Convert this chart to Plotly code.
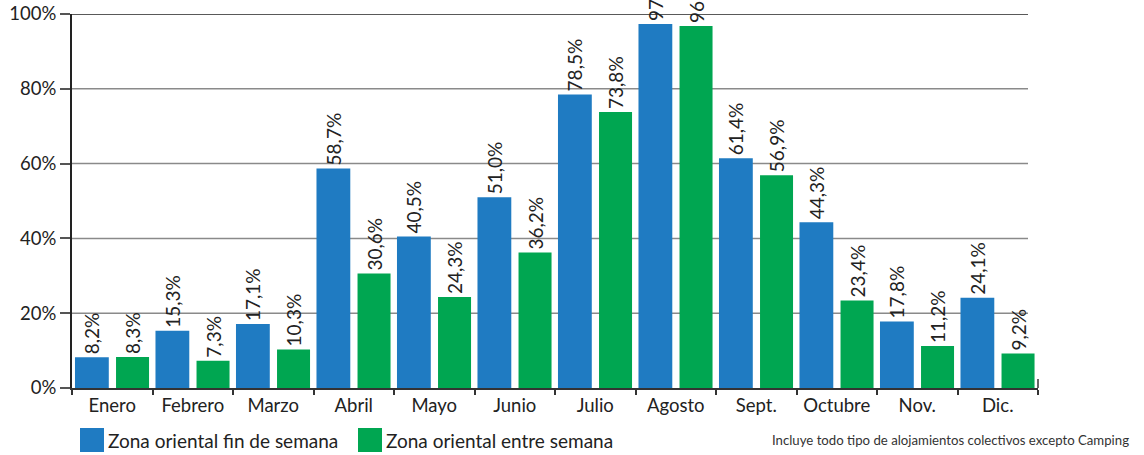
import plotly.graph_objects as go

# Monthly occupancy (%) by zone
months = ["Enero", "Febrero", "Marzo", "Abril", "Mayo", "Junio", "Julio",
          "Agosto", "Sept.", "Octubre", "Nov.", "Dic."]
fin_semana = [8.2, 15.3, 17.1, 58.7, 40.5, 51.0, 78.5, 97.3, 61.4, 44.3, 17.8, 24.1]
entre_semana = [8.3, 7.3, 10.3, 30.6, 24.3, 36.2, 73.8, 96.8, 56.9, 23.4, 11.2, 9.2]
y_ticks = [0, 20, 40, 60, 80, 100]
y_tick_labels = ["0%", "20%", "40%", "60%", "80%", "100%"]

BLUE = "#1f7bc2"
GREEN = "#00a651"
FONT = "Lato"
W, H = 1144, 455
ML, MR, MT, MB = 72, 106, 14, 67


def fmt(v):
    return f"{v:.1f}".replace(".", ",") + "%"


def px(x):
    return (x - ML) / (W - ML - MR)


def py(y):
    return (H - MB - y) / (H - MT - MB)


fig = go.Figure()
for vals, name, col, width, offset in [
    (fin_semana, "Zona oriental fin de semana", BLUE, 0.42, -0.463),
    (entre_semana, "Zona oriental entre semana", GREEN, 0.41, 0.047),
]:
    fig.add_trace(go.Bar(
        x=months, y=vals, name=name,
        marker=dict(color=col, line=dict(width=0)),
        width=width, offset=offset,
        text=[fmt(v) for v in vals], textposition="outside", textangle=-90,
        constraintext="none",
        textfont=dict(family=FONT, size=19, color="#222"), cliponaxis=False,
    ))

shapes = []
# horizontal grid lines (top one dark)
for t in y_ticks[1:]:
    shapes.append(dict(type="line", xref="paper", yref="y", x0=0, x1=px(1028),
                       y0=t, y1=t, layer="below",
                       line=dict(color="#222" if t == 100 else "#8a8a8a", width=1.5)))
# small closing tick at the right end of the x axis
shapes.append(dict(type="line", xref="paper", yref="paper", x0=1, x1=1,
                   y0=0, y1=py(379), line=dict(color="#333", width=1.5)))

# legend swatches
legend_items = [(80, BLUE, "Zona oriental fin de semana"),
                (358, GREEN, "Zona oriental entre semana")]
annotations = []
for x0, col, label in legend_items:
    shapes.append(dict(type="rect", xref="paper", yref="paper",
                       x0=px(x0), x1=px(x0 + 24), y0=py(452), y1=py(428),
                       fillcolor=col, line=dict(width=0)))
    annotations.append(dict(xref="paper", yref="paper", x=px(x0 + 26), y=py(440),
                            xanchor="left", yanchor="middle", showarrow=False,
                            text=label, font=dict(family=FONT, size=19, color="#222")))

annotations.append(dict(xref="paper", yref="paper", x=px(1131), y=py(440),
                        xanchor="right", yanchor="middle", showarrow=False,
                        text="Incluye todo tipo de alojamientos colectivos excepto Camping",
                        font=dict(family=FONT, size=13.2, color="#333")))

fig.update_layout(
    width=W, height=H,
    margin=dict(l=ML, r=MR, t=MT, b=MB, autoexpand=False),
    paper_bgcolor="white", plot_bgcolor="white",
    showlegend=False,
    barmode="group",
    shapes=shapes, annotations=annotations,
    xaxis=dict(
        type="category", showgrid=False, tickson="boundaries", automargin=False,
        ticks="outside", ticklen=5, tickwidth=1.5, tickcolor="#333",
        showline=True, linecolor="#333", linewidth=2,
        tickfont=dict(family=FONT, size=18.5, color="#222"),
        range=[-0.5, 11.5],
    ),
    yaxis=dict(
        range=[0, 100], tickvals=y_ticks, ticktext=y_tick_labels, automargin=False,
        showgrid=False, zeroline=False,
        ticks="outside", ticklen=10, tickwidth=1.5, tickcolor="#555",
        showline=True, linecolor="#222", linewidth=2,
        tickfont=dict(family=FONT, size=18.5, color="#222"),
    ),
)

fig.write_html("out.html")
